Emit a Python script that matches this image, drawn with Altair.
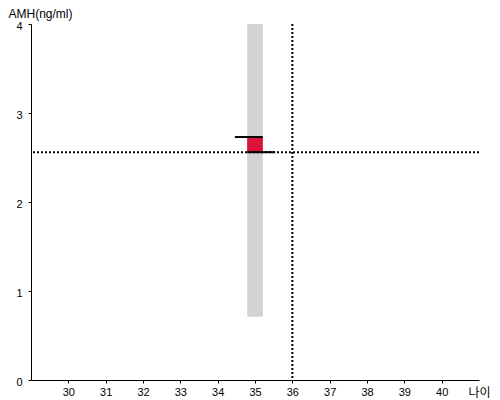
import altair as alt
import pandas as pd

# ---- data ----
x_ticks = [30, 31, 32, 33, 34, 35, 36, 37, 38, 39, 40]
y_ticks = [0, 1, 2, 3, 4]

age = [35]
band_left = [34.79]
band_right = [35.21]
band_low = [0.71]
band_high = [4.0]

box_low = [2.56]
box_high = [2.73]

line_x = [34.46, 34.79]
line_x2 = [35.21, 35.54]
line_y = [2.73, 2.56]

ref_amh = [2.56]
ref_age = [36]

# ---- tables ----
band_df = pd.DataFrame({"x": band_left, "x2": band_right, "y": band_low, "y2": band_high})
box_df = pd.DataFrame({"x": band_left, "x2": band_right, "y": box_low, "y2": box_high})
line_df = pd.DataFrame({"x": line_x, "x2": line_x2, "y": line_y})
hrule_df = pd.DataFrame({"y": ref_amh})
vrule_df = pd.DataFrame({"x": ref_age})

xscale = alt.Scale(domain=[29, 41], nice=False, zero=False)
yscale = alt.Scale(domain=[0, 4], nice=False, zero=False)

xaxis = alt.Axis(
    values=x_ticks, title="나이", titleFont="Noto Sans CJK KR", titleFontSize=12,
    titleFontWeight="normal", titleColor="black", titleAlign="left",
    titleBaseline="alphabetic", titleX=437, titleY=16, titleAnchor=None,
)
yaxis = alt.Axis(
    values=y_ticks, title="AMH(ng/ml)", titleFont="Liberation Sans", titleFontSize=12,
    titleFontWeight="normal", titleColor="black", titleAngle=0, titleAlign="left",
    titleBaseline="alphabetic", titleX=-23, titleY=-7, labelOffset=2.5,
)


def X(f="x"):
    return alt.X(f"{f}:Q", scale=xscale, axis=xaxis)


def Y(f="y"):
    return alt.Y(f"{f}:Q", scale=yscale, axis=yaxis)


band = alt.Chart(band_df).mark_rect(color="#d3d3d3").encode(
    x=X(), x2="x2", y=Y(), y2="y2"
)
box = alt.Chart(box_df).mark_rect(color="#dc143c").encode(
    x=X(), x2="x2", y=Y(), y2="y2"
)
lines = alt.Chart(line_df).mark_rule(color="black", strokeWidth=2).encode(
    x=X(), x2="x2", y=Y()
)
hrule = alt.Chart(hrule_df).mark_rule(color="black", strokeWidth=2, strokeDash=[2, 2]).encode(
    y=Y()
)
vrule = alt.Chart(vrule_df).mark_rule(color="black", strokeWidth=2, strokeDash=[2, 2]).encode(
    x=X()
)

chart = (
    alt.layer(band, box, hrule, vrule, lines)
    .properties(
        width=448, height=356,
        autosize=alt.AutoSizeParams(type="none"),
        padding={"left": 23, "top": 16, "right": 13, "bottom": 20},
    )
    .configure_view(stroke=None)
    .configure_axis(
        grid=False, domainColor="black", domainWidth=1, tickColor="black", tickSize=3,
        labelColor="black", labelFont="Liberation Sans", labelFontSize=11, labelPadding=3,
    )
    .configure_axisY(labelPadding=6)
)

chart.save("out.html", embed_options={"renderer": "svg", "actions": False})
